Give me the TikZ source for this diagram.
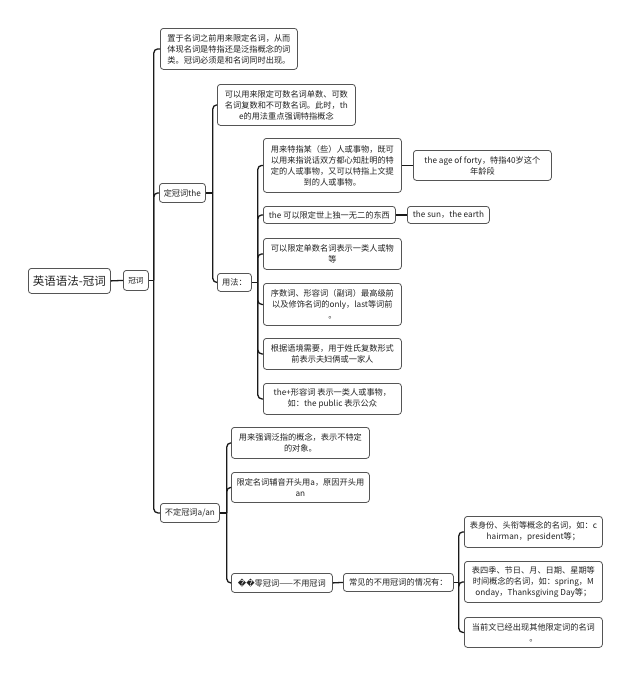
\documentclass[tikz,border=0pt]{standalone}
\usepackage{fontspec}
\usetikzlibrary{calc}
\setmainfont{Noto Sans CJK SC}
\newfontfamily\djv{DejaVu Sans}
\definecolor{txt}{HTML}{222222}
\definecolor{bord}{HTML}{555555}
\definecolor{wire}{HTML}{1A1A1A}
\tikzset{
  box/.style={draw=bord, line width=0.8pt, rounded corners=3pt, fill=white, inner sep=0pt,
    anchor=north west, align=center, text=txt, font=\fontsize{8.2}{11}\selectfont},
  lbox/.style={box, align=left},
  wire/.style={draw=wire, line width=1.3pt},
  br/.style={wire, rounded corners=4pt},
}
\begin{document}
\begin{tikzpicture}[x=1pt,y=-1pt]
\useasboundingbox[fill=white] (0,0) rectangle (630,675);
% nodes
\node[box, minimum width=82, minimum height=25, font=\fontsize{11.5}{14}\selectfont] (root) at (28,268) {英语语法-冠词};
\node[box, minimum width=25, minimum height=20, font=\fontsize{7.6}{10}\selectfont] (gc) at (123,270) {冠词};
\node[lbox, minimum width=137, minimum height=41] (n1) at (160,28) {置于名词之前用来限定名词，从而\\体现名词是特指还是泛指概念的词\\类。冠词必须是和名词同时出现。};
\node[box, minimum width=46, minimum height=19] (the) at (159,183) {定冠词the};
\node[box, minimum width=138, minimum height=41] (d1) at (217,84) {可以用来限定可数名词单数、可数\\名词复数和不可数名词。此时，th\\e的用法重点强调特指概念};
\node[box, minimum width=34, minimum height=18] (yf) at (217,273) {用法：};
\node[box, minimum width=138, minimum height=54] (u1) at (263,138) {用来特指某（些）人或事物，既可\\以用来指说话双方都心知肚明的特\\定的人或事物，又可以特指上文提\\到的人或事物。};
\node[box, minimum width=138, minimum height=30] (u1c) at (413,150) {the age of forty，特指40岁这个\\年龄段};
\node[box, minimum width=132, minimum height=17] (u2) at (263,206) {the 可以限定世上独一无二的东西};
\node[box, minimum width=82, minimum height=17] (u2c) at (407,206) {the sun，the earth};
\node[box, minimum width=138, minimum height=31] (u3) at (263,238) {可以限定单数名词表示一类人或物\\等};
\node[box, minimum width=138, minimum height=42] (u4) at (263,283) {序数词、形容词（副词）最高级前\\以及修饰名词的only，last等词前\\。};
\node[box, minimum width=138, minimum height=31] (u5) at (263,338) {根据语境需要，用于姓氏复数形式\\前表示夫妇俩或一家人};
\node[box, minimum width=138, minimum height=31] (u6) at (263,383) {the+形容词 表示一类人或事物，\\如：the public 表示公众};
\node[box, minimum width=59, minimum height=19] (bd) at (160,503) {不定冠词a/an};
\node[box, minimum width=138, minimum height=31] (b1) at (231,427) {用来强调泛指的概念，表示不特定\\的对象。};
\node[box, minimum width=138, minimum height=30] (b2) at (231,472) {限定名词辅音开头用a，原因开头用\\an};
\node[box, minimum width=101, minimum height=19] (b3) at (231,573) {{\djv\char"FFFD\char"FFFD}零冠词——不用冠词};
\node[box, minimum width=110, minimum height=18] (b3c) at (343,573) {常见的不用冠词的情况有：};
\node[box, minimum width=138, minimum height=31] (c1) at (464,516) {表身份、头衔等概念的名词，如：c\\hairman，president等；};
\node[box, minimum width=138, minimum height=41] (c2) at (464,561) {表四季、节日、月、日期、星期等\\时间概念的名词，如：spring，M\\onday，Thanksgiving Day等；};
\node[box, minimum width=138, minimum height=30] (c3) at (464,617) {当前文已经出现其他限定词的名词\\。};
% junction coordinates
\coordinate (jg) at ($(gc.east)+(5,0)$);
\coordinate (jt) at ($(the.east)+(7,0)$);
\coordinate (jy) at ($(yf.east)+(6,0)$);
\coordinate (jb) at ($(bd.east)+(7,0)$);
\coordinate (jc) at ($(b3c.east)+(5,0)$);
% connectors
\draw[wire] (root.east) -- (gc.west);
\draw[wire] (gc.east) -- (jg);
\draw[br] (jg) |- (n1.west);
\draw[br] (jg) |- (the.west);
\draw[br] (jg) |- (bd.west);
\draw[wire] (the.east) -- (jt);
\draw[br] (jt) |- (d1.west);
\draw[br] (jt) |- (yf.west);
\draw[wire] (yf.east) -- (jy);
\foreach \n in {u1,u2,u3,u4,u5,u6} {\draw[br] (jy) |- (\n.west);}
\draw[wire] (u1.east) -- (u1c.west);
\draw[wire] (u2.east) -- (u2c.west);
\draw[wire] (bd.east) -- (jb);
\foreach \n in {b1,b2,b3} {\draw[br] (jb) |- (\n.west);}
\draw[wire] (b3.east) -- (b3c.west);
\draw[wire] (b3c.east) -- (jc);
\foreach \n in {c1,c2,c3} {\draw[br] (jc) |- (\n.west);}
\end{tikzpicture}
\end{document}
